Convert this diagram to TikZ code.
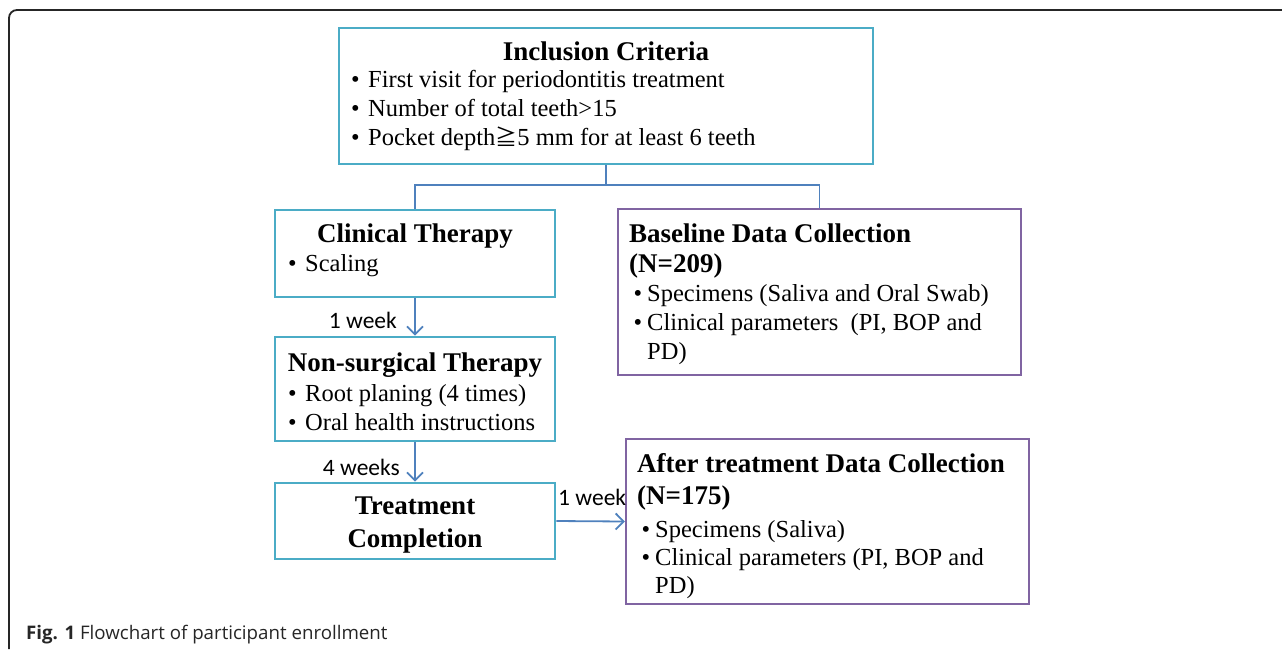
\documentclass[tikz,border=0pt]{standalone}
\usepackage{fontspec}
\setmainfont{Liberation Serif}
\newfontfamily\labfont{Carlito}
\newfontfamily\capfont{Open Sans}
\newfontfamily\cjkfont{Noto Sans CJK JP}
\usetikzlibrary{arrows.meta}
\definecolor{cyanbox}{HTML}{4BACC6}
\definecolor{purplebox}{HTML}{8064A2}
\definecolor{conn}{HTML}{4F81BD}
\newcommand{\cbul}{\llap{\char"2022\hspace{8.5pt}}}
\newcommand{\pbul}{\llap{\char"2022\hspace{5pt}}}
\tikzset{
  x=1pt, y=-1pt,
  cbox/.style={draw=cyanbox, line width=2.6pt, inner sep=0pt},
  pbox/.style={draw=purplebox, line width=2.2pt, inner sep=0pt},
  ttl/.style={inner sep=0pt, font=\fontsize{27}{32}\selectfont\bfseries},
  txt/.style={inner sep=0pt, anchor=base west, font=\fontsize{24.5}{29}\selectfont},
  wk/.style={inner sep=0pt, font=\labfont\fontsize{23.5}{28}\selectfont},
  conline/.style={draw=conn, line width=1.8pt},
  conarrow/.style={conline, -{Straight Barb[length=8pt,width=16pt,line width=1.8pt]}},
  frame/.style={draw=black!85, line width=1.8pt, rounded corners=8pt}
}
\begin{document}
\begin{tikzpicture}
\useasboundingbox (0,0) rectangle (1282,649);
% outer frame
\draw[frame] (9,649) -- (9,10) -- (1282,10);

% boxes
\node[cbox, minimum width=534pt, minimum height=136pt] (inc) at (606,96) {};
\node[cbox, minimum width=280pt, minimum height=87pt] (clin) at (415,253.5) {};
\node[cbox, minimum width=280pt, minimum height=104pt] (ns) at (415,389) {};
\node[cbox, minimum width=280pt, minimum height=76pt] (tc) at (415,521) {};
\node[pbox, minimum width=403pt, minimum height=166pt] (base) at (819.5,292) {};
\node[pbox, minimum width=403pt, minimum height=165pt] (after) at (827.5,521.5) {};

% inclusion criteria text
\node[ttl, anchor=base] (incT) at (606,60) {Inclusion Criteria};
\node[txt] (inc1) at (368,87) {\cbul First visit for periodontitis treatment};
\node[txt] (inc2) at (368,116) {\cbul Number of total teeth>15};
\node[txt] (inc3) at (368,145) {\cbul Pocket depth{\cjkfont\fontsize{22}{29}\selectfont ≧}5 mm for at least 6 teeth};

% clinical therapy
\node[ttl, anchor=base] (clinT) at (415,242) {Clinical Therapy};
\node[txt] (clin1) at (305,271) {\cbul Scaling};

% non-surgical therapy
\node[ttl, anchor=base] (nsT) at (415,371) {Non-surgical Therapy};
\node[txt] (ns1) at (305,401) {\cbul Root planing (4 times)};
\node[txt] (ns2) at (305,430) {\cbul Oral health instructions};

% treatment completion
\node[ttl, anchor=base] (tcT1) at (415,514) {Treatment};
\node[ttl, anchor=base] (tcT2) at (415,547) {Completion};

% baseline data collection
\node[ttl, anchor=base west] (baseT1) at (629,242) {Baseline Data Collection};
\node[ttl, anchor=base west] (baseT2) at (629,272) {(N=209)};
\node[txt] (base1) at (647,301) {\pbul Specimens (Saliva and Oral Swab)};
\node[txt] (base2) at (647,330) {\pbul Clinical parameters\ \ (PI, BOP and};
\node[txt] (base3) at (647,359) {PD)};

% after treatment data collection
\node[ttl, anchor=base west] (afterT1) at (637,472) {After treatment Data Collection};
\node[ttl, anchor=base west] (afterT2) at (637,504) {(N=175)};
\node[txt] (after1) at (655,537) {\pbul Specimens (Saliva)};
\node[txt] (after2) at (655,565) {\pbul Clinical parameters (PI, BOP and};
\node[txt] (after3) at (655,593) {PD)};

% connectors
\coordinate (hb) at (606,185);
\draw[conline] (inc.south) -- (hb);
\draw[conline] (clin.north) |- (hb) -| (base.north);
\draw[conarrow] (clin.south) -- (ns.north);
\draw[conarrow] (ns.south) -- (tc.north);
\draw[conarrow] (tc.east) -- (after.west);

% labels
\node[wk, anchor=base east] (w1) at (397,328) {1 week};
\node[wk, anchor=base east] (w2) at (400,475) {4 weeks};
\node[wk, anchor=base west] (w3) at (558,505) {1 week};

% caption
\node[inner sep=0pt, anchor=base west, text=black!85, font=\capfont\fontsize{18.7}{22}\selectfont] (cap) at (26,639) {\textbf{Fig. 1} Flowchart of participant enrollment};
\end{tikzpicture}
\end{document}
